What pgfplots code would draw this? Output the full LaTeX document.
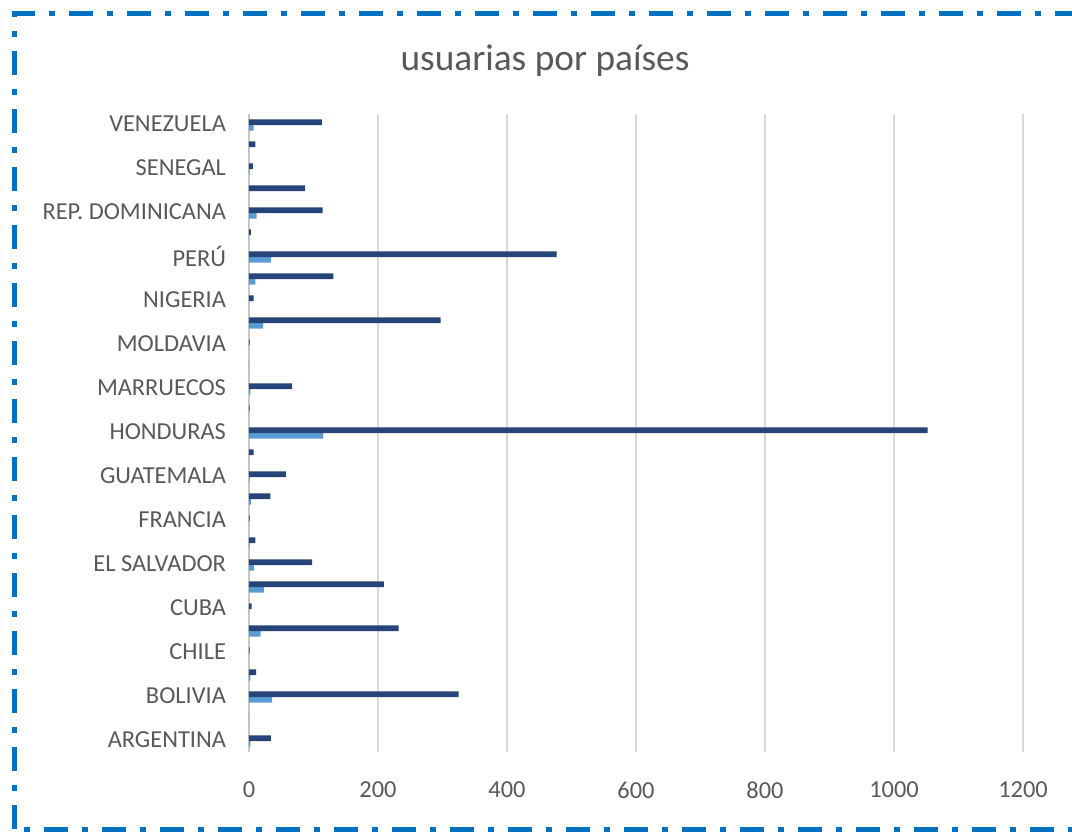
\documentclass[border=0pt]{standalone}
\usepackage{pgfplots}
\pgfplotsset{compat=1.18}
\usepackage{fontspec}
\setmainfont{Carlito}
\definecolor{darkbar}{HTML}{264478}
\definecolor{lightbar}{HTML}{5B9BD5}
\definecolor{txt}{HTML}{595959}
\definecolor{gridc}{HTML}{D9D9D9}
\definecolor{framec}{HTML}{0070C0}
\begin{document}
\begin{tikzpicture}
\useasboundingbox (0,0) rectangle (536pt,416pt);
\begin{axis}[
 at={(124.5pt,40pt)}, anchor=south west,
 scale only axis, width=387pt, height=319pt,
 xbar, bar width=2.8pt,
 xmin=0, xmax=1200, ymin=-0.5, ymax=28.5,
 xtick={0,200,...,1200}, ytick={0,2,...,28},
 yticklabels={ARGENTINA,BOLIVIA,CHILE,CUBA,EL SALVADOR,FRANCIA,GUATEMALA,HONDURAS,MARRUECOS,MOLDAVIA,NIGERIA,PERÚ,REP. DOMINICANA,SENEGAL,VENEZUELA},
 xmajorgrids, grid style={gridc, line width=0.75pt},
 axis line style={draw=none},
 major tick length=0,
 tick label style={font=\fontsize{12.2}{14}\selectfont, text=txt},
 /pgf/number format/assume math mode=true,
 /pgf/number format/1000 sep={},
 xticklabel style={yshift=-11.5pt},
 yticklabel style={xshift=-8pt, yshift=0.5pt},
 clip=false,
]
\draw[gridc!80!gray, line width=0.75pt] (axis cs:0,-0.5) -- (axis cs:0,28.5);
% light series (lower)
\addplot[fill=lightbar, draw=none, bar shift=-1.4pt] coordinates {
(2,0) (0,1) (36,2) (2,3) (0,4) (18,5) (0,6) (23,7) (8,8) (1,9) (0,10) (3,11) (1,12) (0,13) (115,14) (0,15) (2,16) (0,17) (0,18) (22,19) (0,20) (10,21) (34,22) (0,23) (12,24) (0,25) (1,26) (0,27) (7,28)};
% dark series (upper)
\addplot[fill=darkbar, draw=none, bar shift=1.4pt] coordinates {
(34,0) (0,1) (325,2) (11,3) (1,4) (232,5) (4,6) (209,7) (98,8) (10,9) (1,10) (33,11) (57,12) (7,13) (1052,14) (1,15) (67,16) (0,17) (1,18) (297,19) (7,20) (131,21) (477,22) (3,23) (114,24) (87,25) (6,26) (10,27) (113,28)};
\end{axis}
\node[font=\fontsize{18.67}{22}\selectfont, text=txt] at (272.5pt,385.5pt) {usuarias por países};
\draw[framec, line width=2.5pt, dash pattern=on 12pt off 7pt on 3pt off 7pt] (7pt,1.5pt) rectangle (570pt,409pt);
\end{tikzpicture}
\end{document}
